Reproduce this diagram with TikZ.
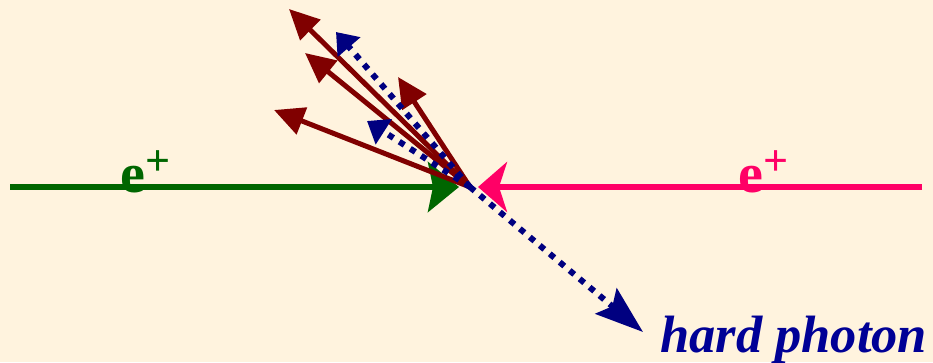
\documentclass[tikz,border=0pt]{standalone}
\usepackage{fontspec}
\setmainfont{Liberation Serif}
\usetikzlibrary{arrows.meta}
\definecolor{bg}{RGB}{255,243,222}
\definecolor{egreen}{RGB}{0,102,0}
\definecolor{epink}{RGB}{255,0,102}
\definecolor{maroon}{RGB}{128,0,0}
\definecolor{navy}{RGB}{0,0,128}
\definecolor{tblue}{RGB}{0,0,150}
\begin{document}
\begin{tikzpicture}[x=1pt,y=-1pt,
  beam/.style={line width=6pt},
  jet/.style={line width=5pt, draw=maroon, -{Triangle[length=30pt,width=28pt]}},
  phot/.style={line width=6pt, draw=navy, dash pattern=on 6pt off 7pt},
  lbl/.style={anchor=base west, inner sep=0pt}]
\fill[bg] (0,0) rectangle (933,362);
\useasboundingbox (0,0) rectangle (933,362);
% coordinates
\coordinate (c) at (470,187);
\coordinate (gs) at (10,187);
\coordinate (gt) at (459,187);
\coordinate (ps) at (922,187);
\coordinate (pt) at (478,187);
\coordinate (m1) at (289,9);
\coordinate (m2) at (305,53);
\coordinate (m3) at (398,77);
\coordinate (m4) at (274,110);
\coordinate (b1) at (336,32);
\coordinate (b2) at (367,121);
\coordinate (b3) at (643,332);
% beams
\draw[beam, draw=egreen, -{Stealth[length=31pt,width=50pt,inset=5pt]}] (gs) -- (gt);
\draw[beam, draw=epink, -{Stealth[length=29pt,width=50pt,inset=8pt]}] (ps) -- (pt);
% jets
\draw[jet] (c) -- (m1);
\draw[jet] (c) -- (m2);
\draw[jet] (c) -- (m3);
\draw[jet] (c) -- (m4);
% photons
\draw[phot, -{Triangle[length=20pt,width=29pt]}] (c) -- (b1);
\draw[phot, -{Triangle[length=20pt,width=29pt]}] (c) -- (b2);
\draw[phot, -{Stealth[length=48pt,width=33pt,inset=8pt]}] (c) -- (b3);
% labels
\node[lbl, text=egreen, font=\fontsize{56}{56}\selectfont\bfseries] (lg) at (120,192) {e\raisebox{17pt}{\fontsize{44}{44}\selectfont +}};
\node[lbl, text=epink, font=\fontsize{56}{56}\selectfont\bfseries] (lp) at (738,192) {e\raisebox{17pt}{\fontsize{44}{44}\selectfont +}};
\node[lbl, text=tblue, font=\fontsize{52.5}{52.5}\selectfont\bfseries\itshape] (hp) at (660,352) {hard photon};
\end{tikzpicture}
\end{document}
